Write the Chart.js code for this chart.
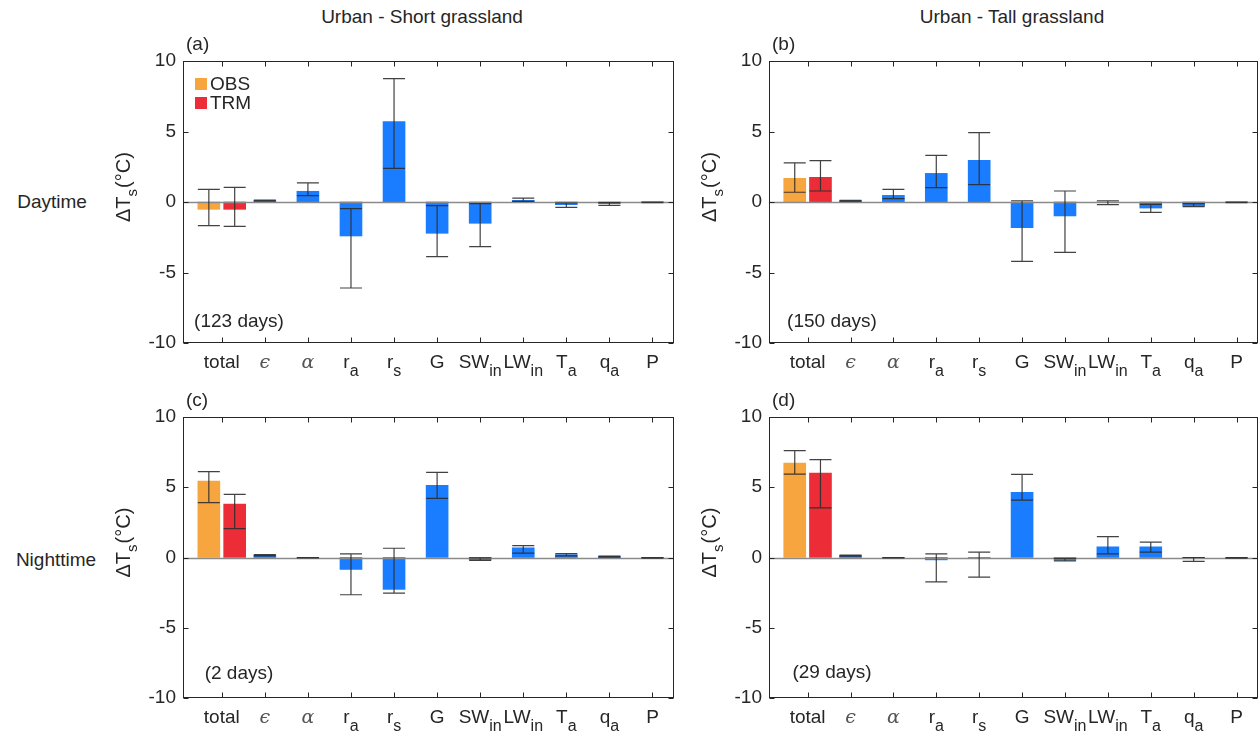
<!DOCTYPE html>
<html>
<head>
<meta charset="utf-8">
<script src="https://cdn.jsdelivr.net/npm/chart.js@4.4.1/dist/chart.umd.min.js"></script>
<style>
  body { margin: 0; background: #fff; }
  #fig { position: relative; width: 1259px; height: 736px; font-family: 'Liberation Sans', Arial, sans-serif; color: #262626; }
  .panel { position: absolute; }
  .txt { position: absolute; font-size: 19px; white-space: nowrap; transform: translate(-50%, -50%); }
</style>
</head>
<body>
<div id="fig">
  <div class="txt" style="left:422px; top:17px">Urban - Short grassland</div>
  <div class="txt" style="left:1012px; top:17px">Urban - Tall grassland</div>
  <div class="txt" style="left:52px; top:202px">Daytime</div>
  <div class="txt" style="left:56px; top:560px">Nighttime</div>
  <canvas class="panel" id="pa" width="580" height="352" style="left:100px; top:30px"></canvas>
  <canvas class="panel" id="pb" width="573" height="352" style="left:686px; top:30px"></canvas>
  <canvas class="panel" id="pc" width="580" height="350" style="left:100px; top:386px"></canvas>
  <canvas class="panel" id="pd" width="573" height="350" style="left:686px; top:386px"></canvas>
</div>
<script>
// Catégories de l'axe x (texte principal + indice)
const tickMain = ['total', '\u03F5', '\u03B1', 'r', 'r', 'G', 'SW', 'LW', 'T', 'q', 'P'];
const tickSub  = ['', '', '', 'a', 's', '', 'in', 'in', 'a', 'a', ''];

// Étiquettes des panneaux (a, b, c, d)
const panelTags = ['(a)', '(b)', '(c)', '(d)'];
const dayCounts = ['(123 days)', '(150 days)', '(2 days)', '(29 days)'];

// Total : OBS et TRM (moyenne, bas et haut de la barre d'erreur), un élément par panneau
const obsMean = [-0.52, 1.68, 5.44, 6.72];
const obsLow  = [-1.68, 0.69, 3.91, 5.94];
const obsHigh = [0.90, 2.77, 6.11, 7.60];
const trmMean = [-0.52, 1.75, 3.81, 6.01];
const trmLow  = [-1.73, 0.78, 2.06, 3.53];
const trmHigh = [1.04, 2.93, 4.50, 6.96];

// Contributions : eps, alpha, ra, rs, G, SWin, LWin, Ta, qa, P
const compA     = [0.10, 0.76, -2.41, 5.70, -2.22, -1.51, 0.12, -0.19, -0.12, -0.02];
const compALow  = [0.08, 0.45, -6.10, 2.39, -3.88, -3.17, 0.05, -0.38, -0.24, -0.04];
const compAHigh = [0.13, 1.35, -0.47, 8.75, -0.26, -0.12, 0.28, -0.07, -0.05, 0.00];

const compB     = [0.09, 0.47, 2.03, 2.96, -1.82, -0.99, -0.04, -0.43, -0.28, -0.02];
const compBLow  = [0.06, 0.24, 1.02, 1.23, -4.21, -3.57, -0.19, -0.73, -0.33, -0.04];
const compBHigh = [0.11, 0.90, 3.31, 4.92, 0.09, 0.78, 0.09, -0.17, -0.12, 0.00];

const compC     = [0.17, -0.02, -0.85, -2.27, 5.14, -0.17, 0.69, 0.20, 0.09, -0.02];
const compCLow  = [0.12, -0.03, -2.65, -2.53, 4.21, -0.20, 0.31, 0.12, 0.02, -0.04];
const compCHigh = [0.20, 0.00, 0.26, 0.66, 6.06, -0.02, 0.85, 0.28, 0.10, 0.00];

const compD     = [0.14, -0.02, -0.17, -0.02, 4.64, -0.19, 0.76, 0.76, -0.07, -0.02];
const compDLow  = [0.10, -0.03, -1.73, -1.40, 4.09, -0.24, 0.26, 0.38, -0.28, -0.04];
const compDHigh = [0.17, 0.00, 0.26, 0.38, 5.92, -0.07, 1.49, 1.09, 0.00, 0.00];

const compMean = [compA, compB, compC, compD];
const compLow  = [compALow, compBLow, compCLow, compDLow];
const compHigh = [compAHigh, compBHigh, compCHigh, compDHigh];

const FONT = "'Liberation Sans', Arial, sans-serif";
const colObs = '#F7A53E';
const colTrm = '#EC2C36';
const colComp = '#1A7DFF';
const ink = '#262626';

Chart.defaults.font.family = FONT;

// Plugin : ligne zéro, barres d'erreur, cadre, étiquettes
const decoPlugin = {
    id: 'deco',
    afterDatasetsDraw(chart, args, o) {
        const { ctx, chartArea: ca, scales: { y } } = chart;
        ctx.save();
        // ligne du zéro
        const y0 = Math.round(y.getPixelForValue(0)) + 0.5;
        ctx.strokeStyle = '#8a8a8a';
        ctx.lineWidth = 1.3;
        ctx.beginPath();
        ctx.moveTo(ca.left, y0);
        ctx.lineTo(ca.right, y0);
        ctx.stroke();

        // barres d'erreur
        ctx.strokeStyle = 'rgba(45,45,45,0.9)';
        ctx.lineWidth = 1.2;
        chart.data.datasets.forEach((ds, di) => {
            const meta = chart.getDatasetMeta(di);
            meta.data.forEach((bar, i) => {
                const lo = y.getPixelForValue(ds.errLow[i]);
                const hi = y.getPixelForValue(ds.errHigh[i]);
                const half = 11;
                ctx.beginPath();
                ctx.moveTo(bar.x, lo);
                ctx.lineTo(bar.x, hi);
                ctx.moveTo(bar.x - half, lo);
                ctx.lineTo(bar.x + half, lo);
                ctx.moveTo(bar.x - half, hi);
                ctx.lineTo(bar.x + half, hi);
                ctx.stroke();
            });
        });
        ctx.restore();
    },
    afterDraw(chart, args, o) {
        const { ctx, chartArea: ca, scales: { x, y } } = chart;
        ctx.save();
        // cadre
        ctx.strokeStyle = ink;
        ctx.lineWidth = 1;
        const L = Math.round(ca.left) + 0.5, R = Math.round(ca.right) - 0.5;
        const T = Math.round(ca.top) + 0.5, B = Math.round(ca.bottom) - 0.5;
        ctx.strokeRect(L, T, R - L, B - T);

        // graduations vers l'intérieur
        const tl = 5;
        ctx.beginPath();
        [-10, -5, 0, 5, 10].forEach(v => {
            const py = Math.round(y.getPixelForValue(v)) + 0.5;
            ctx.moveTo(L, py); ctx.lineTo(L + tl, py);
            ctx.moveTo(R, py); ctx.lineTo(R - tl, py);
        });
        tickMain.forEach((t, i) => {
            const px = Math.round(x.getPixelForValue(i + 1)) + 0.5;
            ctx.moveTo(px, T); ctx.lineTo(px, T + tl);
            ctx.moveTo(px, B); ctx.lineTo(px, B - tl);
        });
        ctx.stroke();

        // étiquettes de l'axe x avec indices
        ctx.fillStyle = ink;
        ctx.textBaseline = 'alphabetic';
        ctx.textAlign = 'left';
        const base = ca.bottom + 25;
        tickMain.forEach((t, i) => {
            const px = x.getPixelForValue(i + 1);
            const greek = (i === 1 || i === 2);
            const mainFont = greek ? "italic 19px 'DejaVu Serif', 'Liberation Serif', serif" : '19px ' + FONT;
            const subFont = '16px ' + FONT;
            ctx.font = mainFont;
            const w1 = ctx.measureText(t).width;
            ctx.font = subFont;
            const w2 = tickSub[i] ? ctx.measureText(tickSub[i]).width : 0;
            const x0 = px - (w1 + w2) / 2;
            ctx.font = mainFont;
            ctx.fillStyle = greek ? '#555' : ink;
            ctx.fillText(t, x0, base);
            if (tickSub[i]) {
                ctx.font = subFont;
                ctx.fillStyle = ink;
                ctx.fillText(tickSub[i], x0 + w1, base + 8);
            }
        });

        // titre de l'axe y : ΔT_s (°C)
        ctx.save();
        const midY = (ca.top + ca.bottom) / 2;
        ctx.translate(ca.left - 53, midY + 20);
        ctx.rotate(-Math.PI / 2);
        ctx.fillStyle = ink;
        ctx.font = '20px ' + FONT;
        ctx.fillText('\u0394T', 0, 0);
        let w = ctx.measureText('\u0394T').width;
        ctx.font = '15px ' + FONT;
        ctx.fillText('s', w, 7);
        w += ctx.measureText('s').width + 1;
        ctx.font = '20px ' + FONT;
        ctx.fillText('(\u00B0C)', w, 0);
        ctx.restore();

        // étiquette du panneau et nombre de jours
        ctx.font = '19px ' + FONT;
        ctx.fillStyle = ink;
        ctx.textBaseline = 'middle';
        ctx.fillText(o.tag, ca.left + 3, ca.top - 16);
        ctx.textAlign = 'center';
        ctx.fillText(o.days, ca.left + o.daysX, ca.bottom - o.daysY);

        // légende (panneau a uniquement)
        if (o.legend) {
            ctx.textAlign = 'left';
            const items = [[chart.data.datasets[0].label, colObs, 23], [chart.data.datasets[1].label, colTrm, 42]];
            items.forEach(([lab, c, dy]) => {
                ctx.fillStyle = c;
                ctx.fillRect(ca.left + 12, ca.top + dy - 6, 12, 12);
                ctx.fillStyle = ink;
                ctx.fillText(lab, ca.left + 27, ca.top + dy + 1);
            });
        }
        ctx.restore();
    }
};

// Création d'un panneau
function makePanel(id, p, padRight, padBottom, daysX, daysY) {
    const off = 0.3; // décalage OBS / TRM autour de "total"
    const compData = compMean[p].map((v, i) => ({ x: i + 2, y: v }));
    return new Chart(document.getElementById(id), {
        type: 'bar',
        data: {
            datasets: [
                { label: 'OBS', data: [{ x: 1 - off, y: obsMean[p] }], backgroundColor: colObs,
                  errLow: [obsLow[p]], errHigh: [obsHigh[p]] },
                { label: 'TRM', data: [{ x: 1 + off, y: trmMean[p] }], backgroundColor: colTrm,
                  errLow: [trmLow[p]], errHigh: [trmHigh[p]] },
                { label: 'components', data: compData, backgroundColor: colComp,
                  errLow: compLow[p], errHigh: compHigh[p] }
            ]
        },
        options: {
            responsive: false,
            animation: false,
            devicePixelRatio: 1,
            layout: { padding: { top: 31, right: padRight, bottom: padBottom, left: 0 } },
            datasets: { bar: { barThickness: 22, grouped: false, borderWidth: 0 } },
            plugins: {
                legend: { display: false },
                tooltip: { enabled: false },
                deco: { tag: panelTags[p], days: dayCounts[p], daysX: daysX, daysY: daysY, legend: p === 0 }
            },
            scales: {
                x: { type: 'linear', min: 0.1, max: 11.5, offset: false, display: false },
                y: {
                    min: -10, max: 10,
                    ticks: { stepSize: 5, color: ink, font: { size: 19, family: FONT }, padding: 7 },
                    grid: { display: false, drawTicks: false },
                    border: { display: false },
                    afterFit(scale) { scale.width = 83; }
                }
            }
        },
        plugins: [decoPlugin]
    });
}

makePanel('pa', 0, 6, 39, 56, 21);
makePanel('pb', 1, 1, 39, 63, 21);
makePanel('pc', 2, 6, 38, 56, 24);
makePanel('pd', 3, 1, 38, 63, 25);
</script>
</body>
</html>
